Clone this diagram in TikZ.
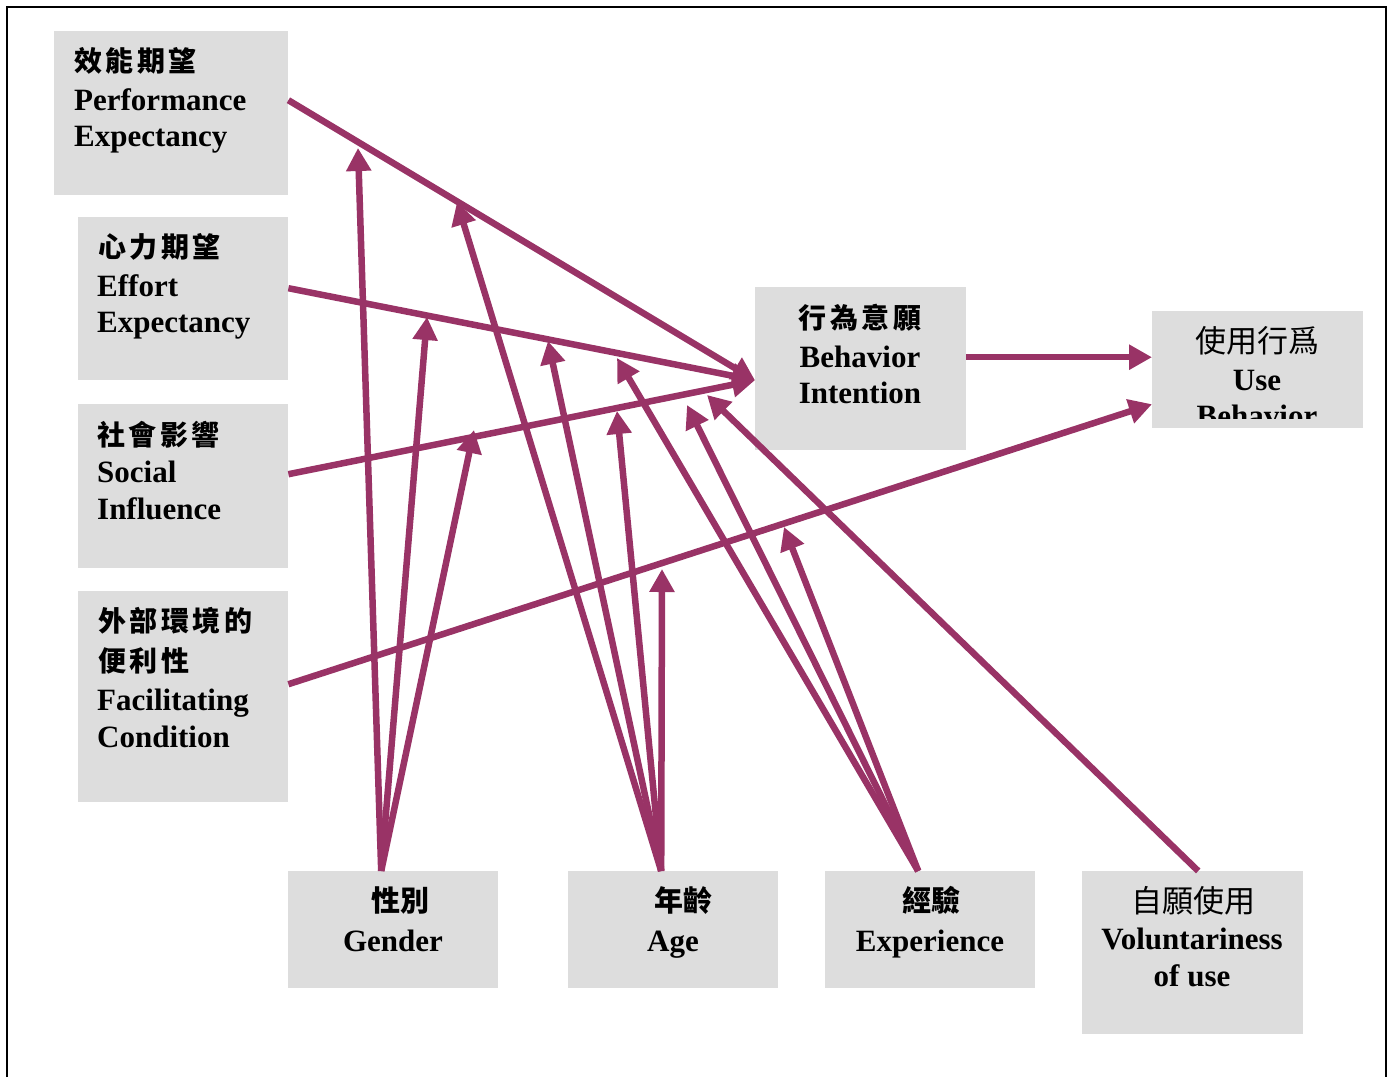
\documentclass[tikz,border=0pt]{standalone}
\usepackage{fontspec}
\setmainfont{Liberation Serif}
\newfontfamily\cjk{Noto Sans CJK TC}
\usetikzlibrary{arrows.meta}
\definecolor{plum}{RGB}{153,51,102}
\definecolor{boxgray}{RGB}{221,221,221}
\newcommand\cjkgap{\kern3.5pt}
\newcommand\cbold[1]{{\cjk\bfseries\fontsize{28}{37}\selectfont #1}}
\newcommand\cmid[1]{{\cjk\bfseries\fontsize{29}{37}\selectfont #1}}
\newcommand\cplain[1]{{\cjk\mdseries\fontsize{31}{37}\selectfont #1}}
\tikzset{
  box/.style={fill=boxgray, draw=none, inner sep=0pt, anchor=north west},
  lbl/.style={inner sep=0pt, font=\bfseries\fontsize{31}{37}\selectfont},
  lleft/.style={lbl, anchor=base west},
  lmid/.style={lbl, anchor=base},
  link/.style={draw=plum, line width=6.5pt, -{Triangle[length=23pt,width=24pt]}},
}
\begin{document}
\begin{tikzpicture}[x=1pt,y=-1pt]
\useasboundingbox (0,0) rectangle (1394,1077);
% outer frame
\draw[line width=1.5pt] (7,1077) -- (7,7) -- (1386,7) -- (1386,1077);

% boxes
\node[box, minimum width=234pt, minimum height=164pt] (pe) at (54,31) {};
\node[box, minimum width=210pt, minimum height=163pt] (ee) at (78,217) {};
\node[box, minimum width=210pt, minimum height=164pt] (si) at (78,404) {};
\node[box, minimum width=210pt, minimum height=211pt] (fc) at (78,591) {};
\node[box, minimum width=211pt, minimum height=163pt] (bi) at (755,287) {};
\node[box, minimum width=211pt, minimum height=117pt] (ub) at (1152,311) {};
\node[box, minimum width=210pt, minimum height=117pt] (gen) at (288,871) {};
\node[box, minimum width=210pt, minimum height=117pt] (age) at (568,871) {};
\node[box, minimum width=210pt, minimum height=117pt] (exp) at (825,871) {};
\node[box, minimum width=221pt, minimum height=163pt] (vol) at (1082,871) {};

% texts of the left boxes
\node[lleft] (pe1) at (74,71) {\cbold{效\cjkgap 能\cjkgap 期\cjkgap 望}};
\node[lleft] (pe2) at (74,110) {Performance};
\node[lleft] (pe3) at (74,146) {Expectancy};
\node[lleft] (ee1) at (98,257) {\cbold{心\cjkgap 力\cjkgap 期\cjkgap 望}};
\node[lleft] (ee2) at (97,296) {Effort};
\node[lleft] (ee3) at (97,332) {Expectancy};
\node[lleft] (si1) at (97,445) {\cbold{社\cjkgap 會\cjkgap 影\cjkgap 響}};
\node[lleft] (si2) at (97,482) {Social};
\node[lleft] (si3) at (97,519) {Influence};
\node[lleft] (fc1) at (98,631) {\cbold{外\cjkgap 部\cjkgap 環\cjkgap 境\cjkgap 的}};
\node[lleft] (fc2) at (98,671) {\cbold{便\cjkgap 利\cjkgap 性}};
\node[lleft] (fc3) at (97,710) {Facilitating};
\node[lleft] (fc4) at (97,747) {Condition};

% texts of the right boxes
\node[lmid] (bi1) at (860,328) {\cbold{行\cjkgap 為\cjkgap 意\cjkgap 願}};
\node[lmid] (bi2) at (860,367) {Behavior};
\node[lmid] (bi3) at (860,403) {Intention};
\begin{scope}
  \clip (1152,311) rectangle (1363,418);
  \node[lmid] (ub1) at (1257,352) {\cplain{使用行爲}};
  \node[lmid] (ub2) at (1257,390) {Use};
  \node[lmid] (ub3) at (1257,426) {Behavior};
\end{scope}

% texts of the moderator boxes
\node[lmid] (gen1) at (400,911) {\cmid{性別}};
\node[lmid] (gen2) at (393,951) {Gender};
\node[lmid] (age1) at (683,911) {\cmid{年齡}};
\node[lmid] (age2) at (673,951) {Age};
\node[lmid] (exp1) at (931,911) {\cmid{經驗}};
\node[lmid] (exp2) at (930,951) {Experience};
\node[lmid] (vol1) at (1193,912) {\cplain{自願使用}};
\node[lmid] (vol2) at (1192,949) {Voluntariness};
\node[lmid] (vol3) at (1192,986) {of use};

% main paths
\draw[link] ([yshift=13pt]pe.east) -- ([yshift=-11.5pt]bi.west);
\draw[link] ([yshift=10.5pt]ee.east) -- ([yshift=-11.5pt]bi.west);
\draw[link] ([yshift=12pt]si.east) -- ([yshift=-11.5pt]bi.west);
\draw[link] ([yshift=12.5pt]fc.east) -- ([yshift=-34.5pt]ub.west);
\draw[link] ([yshift=11.5pt]bi.east) -- ([yshift=12.5pt]ub.west);

% points where the moderating arrows meet the paths
\coordinate (gpe) at (358,148);
\coordinate (gee) at (427,317);
\coordinate (gsi) at (474,430);
\coordinate (ape) at (457,202);
\coordinate (aee) at (548,341);
\coordinate (asi) at (617,411);
\coordinate (afc) at (662,569);
\coordinate (eee) at (617,358);
\coordinate (esi) at (687,405);
\coordinate (efc) at (784,527);
\coordinate (vsi) at (707,395);

% moderating arrows
\draw[link] ([xshift=-12pt]gen.north) -- (gpe);
\draw[link] ([xshift=-12pt]gen.north) -- (gee);
\draw[link] ([xshift=-12pt]gen.north) -- (gsi);
\draw[link] ([xshift=-12pt]age.north) -- (ape);
\draw[link] ([xshift=-12pt]age.north) -- (aee);
\draw[link] ([xshift=-12pt]age.north) -- (asi);
\draw[link] ([xshift=-12pt]age.north) -- (afc);
\draw[link] ([xshift=-12pt]exp.north) -- (eee);
\draw[link] ([xshift=-12pt]exp.north) -- (esi);
\draw[link] ([xshift=-12pt]exp.north) -- (efc);
\draw[link] ([xshift=5.5pt]vol.north) -- (vsi);
\end{tikzpicture}
\end{document}
